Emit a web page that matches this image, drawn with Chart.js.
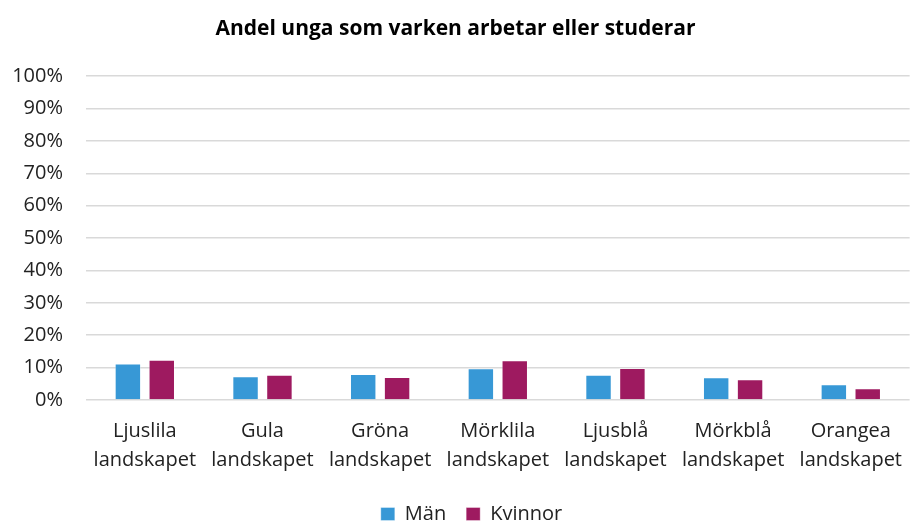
<!DOCTYPE html>
<html>
<head>
<meta charset="utf-8">
<script src="https://cdn.jsdelivr.net/npm/chart.js@4.4.1/dist/chart.umd.min.js"></script>
<style>
html,body{margin:0;padding:0;background:#fff;}
#wrap{width:911px;height:522px;position:relative;}
</style>
</head>
<body>
<div id="wrap"><canvas id="c" width="911" height="522"></canvas></div>
<script>
const categories = [
  ['Ljuslila','landskapet'],
  ['Gula','landskapet'],
  ['Gröna','landskapet'],
  ['Mörklila','landskapet'],
  ['Ljusblå','landskapet'],
  ['Mörkblå','landskapet'],
  ['Orangea','landskapet']
];
const seriesNames = ['Män','Kvinnor'];
const manValues = [11.3, 7.3, 8.0, 9.8, 7.8, 7.0, 4.9];
const kvinnorValues = [12.4, 7.8, 7.1, 12.3, 9.9, 6.4, 3.6];
const titleText = 'Andel unga som varken arbetar eller studerar';

const FONT = "'Open Sans', sans-serif";

const shiftLegend = {
  id: 'shiftLegend',
  afterLayout(chart) {
    if (chart.legend) { chart.legend.left += 32; }
  }
};

new Chart(document.getElementById('c'), {
  type: 'bar',
  data: {
    labels: categories,
    datasets: [
      { label: seriesNames[0], data: manValues, backgroundColor: '#3798D6', borderColor: 'rgba(255,255,255,0.35)', borderWidth: 1 },
      { label: seriesNames[1], data: kvinnorValues, backgroundColor: '#9E1A60', borderColor: 'rgba(255,255,255,0.35)', borderWidth: 1 }
    ]
  },
  plugins: [shiftLegend],
  options: {
    responsive: false,
    animation: false,
    devicePixelRatio: 1,
    layout: { padding: { left: 0, right: 0, top: 0, bottom: -12 } },
    datasets: { bar: { categoryPercentage: 0.576, barPercentage: 0.78 } },
    plugins: {
      title: {
        display: true,
        text: titleText,
        color: '#000',
        font: { family: FONT, size: 21, weight: 'bold', lineHeight: 1.2 },
        padding: { top: 16, bottom: 35 }
      },
      legend: {
        position: 'bottom',
        labels: {
          color: '#222',
          font: { family: FONT, size: 20, lineHeight: 1 },
          boxWidth: 14,
          boxHeight: 13,
          padding: 20
        }
      },
      tooltip: { enabled: false }
    },
    scales: {
      x: {
        grid: { display: false },
        border: { display: false },
        ticks: {
          color: '#222',
          font: { family: FONT, size: 20, lineHeight: 1.45 },
          padding: 9,
          maxRotation: 0,
          autoSkip: false
        },
        afterFit: s => { s.height = 84; }
      },
      y: {
        min: 0,
        max: 100,
        grid: { color: '#d9d9d9', lineWidth: 1.5, drawTicks: false },
        border: { display: false },
        ticks: {
          stepSize: 10,
          color: '#222',
          font: { family: FONT, size: 20 },
          padding: 23,
          callback: v => v + '%'
        },
        afterFit: s => { s.width = 86; }
      }
    }
  }
});
</script>
</body>
</html>
